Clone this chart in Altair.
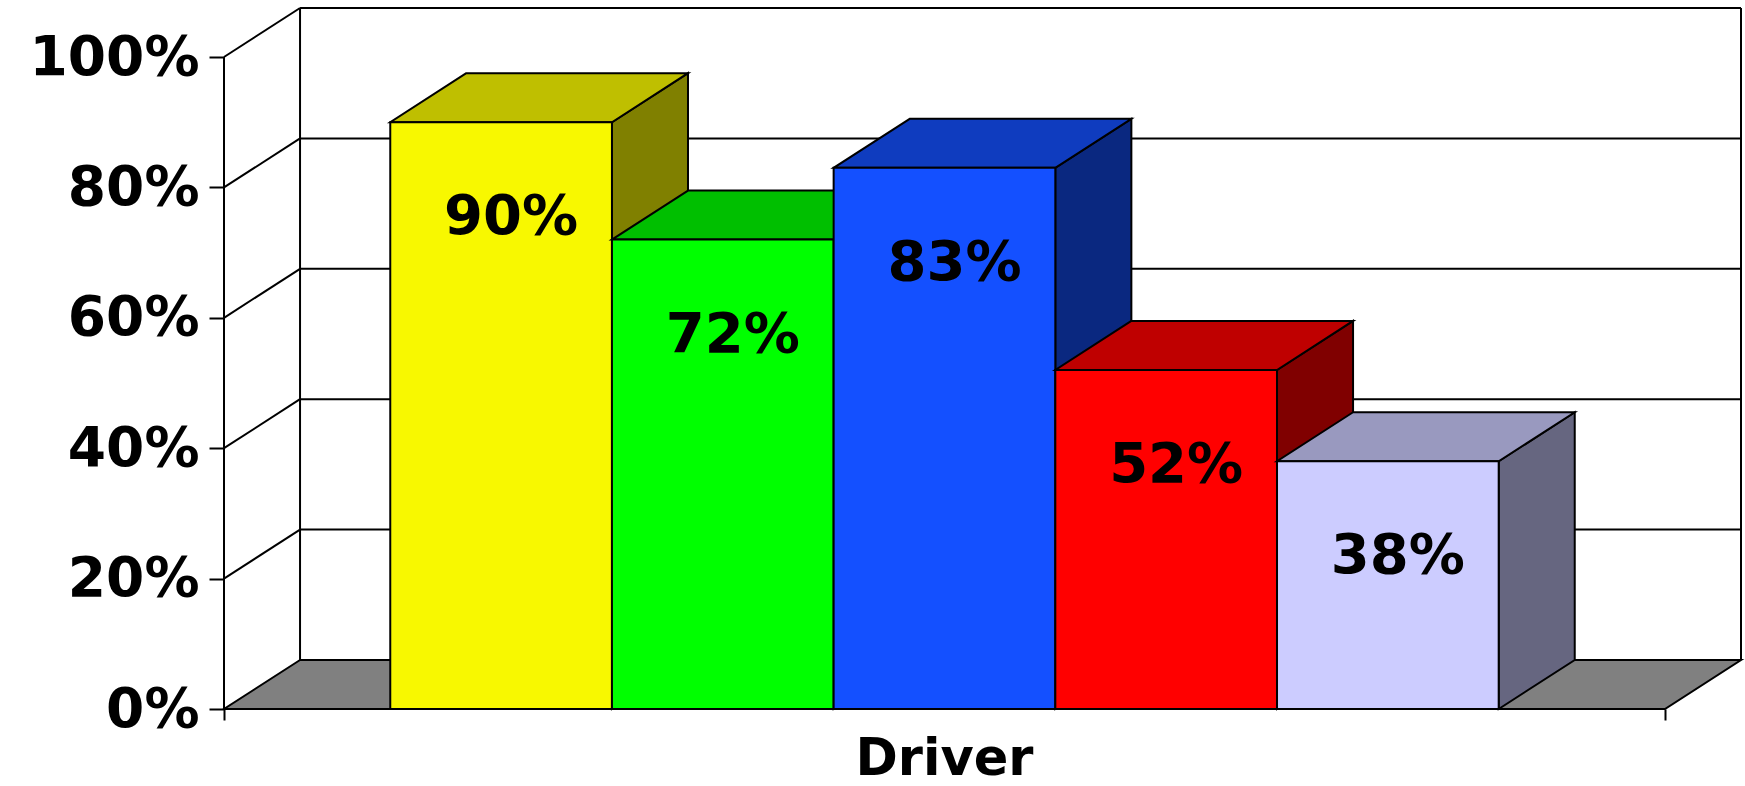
import altair as alt
import pandas as pd

# Share of each driver (percent), drawn left to right
values = [90, 72, 83, 52, 38]
front_colors = ["#F8F800", "#00FF00", "#1450FF", "#FF0000", "#CCCCFF"]
top_colors = ["#BFBF00", "#00BF00", "#0F3CBF", "#BF0000", "#9999BF"]
side_colors = ["#808000", "#008000", "#0A2880", "#800000", "#666680"]
y_ticks = [0, 20, 40, 60, 80, 100]

# Pseudo-3D depth: horizontal offset in bar widths, vertical offset in percent
DX = 0.343
DY = 7.52
X_LO, X_HI = -0.75, 5.75  # front edge of the floor, in bar units

FONT = "DejaVu Sans"
LINE = 2

x_scale = alt.Scale(domain=[X_LO, X_HI + DX], nice=False, zero=False)
y_scale = alt.Scale(domain=[0, 100 + DY], nice=False, zero=False)

x_axis = alt.Axis(
    values=[X_LO, X_HI], labels=False, grid=False, domain=False,
    tickSize=11, tickWidth=LINE, tickColor="black",
    title="Driver", titleFont=FONT, titleFontSize=51, titleFontWeight="bold",
    titleColor="black", titleX=720, titleY=65, titleAlign="center",
    titleBaseline="alphabetic",
)
y_axis = alt.Axis(
    values=y_ticks, labelExpr="datum.value + '%'", grid=False, domain=False,
    tickSize=15, tickWidth=LINE, tickColor="black",
    labelFont=FONT, labelFontSize=55, labelFontWeight="bold",
    labelColor="black", labelPadding=10, title=None,
)


def X(field="x"):
    return alt.X(f"{field}:Q", scale=x_scale, axis=x_axis)


def Y(field="y"):
    return alt.Y(f"{field}:Q", scale=y_scale, axis=y_axis)


layers = []

# Back wall gridlines, top edge and the diagonals joining them to the front axis
grid_y = [v + DY for v in y_ticks[1:]]
back_lines = pd.DataFrame({"x": [X_LO + DX] * len(grid_y),
                           "x2": [X_HI + DX] * len(grid_y),
                           "y": grid_y})
layers.append(alt.Chart(back_lines).mark_rule(color="black", strokeWidth=LINE).encode(
    x=X(), x2="x2:Q", y=Y()))

diag = pd.DataFrame({"x": [X_LO] * 5, "x2": [X_LO + DX] * 5,
                     "y": y_ticks[1:], "y2": grid_y})
layers.append(alt.Chart(diag).mark_rule(color="black", strokeWidth=LINE).encode(
    x=X(), x2="x2:Q", y=Y(), y2="y2:Q"))

# Vertical edges: back-left, back-right and the front value axis
verticals = pd.DataFrame({"x": [X_LO + DX, X_HI + DX, X_LO],
                          "y": [DY, DY, 0],
                          "y2": [100 + DY, 100 + DY, 100]})
layers.append(alt.Chart(verticals).mark_rule(color="black", strokeWidth=LINE).encode(
    x=X(), y=Y(), y2="y2:Q"))

# Grey floor
floor = pd.DataFrame({"y": [0, DY], "x": [X_LO, X_LO + DX], "x2": [X_HI, X_HI + DX]})
layers.append(alt.Chart(floor).mark_area(
    orient="horizontal", color="#808080", stroke="black", strokeWidth=LINE,
    opacity=1).encode(y=Y(), x=X(), x2="x2:Q"))

# Bars, painted left to right so each one covers the previous bar's side
for i, v in enumerate(values):
    side = pd.DataFrame({"x": [i + 1, i + 1 + DX], "y": [v, v + DY], "y2": [0, DY]})
    layers.append(alt.Chart(side).mark_area(
        orient="vertical", color=side_colors[i], stroke="black",
        strokeWidth=LINE, opacity=1).encode(x=X(), y=Y(), y2="y2:Q"))

    top = pd.DataFrame({"y": [v, v + DY], "x": [i, i + DX], "x2": [i + 1, i + 1 + DX]})
    layers.append(alt.Chart(top).mark_area(
        orient="horizontal", color=top_colors[i], stroke="black",
        strokeWidth=LINE, opacity=1).encode(y=Y(), x=X(), x2="x2:Q"))

    front = pd.DataFrame({"x": [i], "x2": [i + 1], "y": [0], "y2": [v]})
    layers.append(alt.Chart(front).mark_rect(
        color=front_colors[i], stroke="black", strokeWidth=LINE,
        opacity=1).encode(x=X(), x2="x2:Q", y=Y(), y2="y2:Q"))

# Value labels inside each bar
labels = pd.DataFrame({"x": [i + 0.5 for i in range(len(values))],
                       "y": values,
                       "text": [f"{v}%" for v in values]})
layers.append(alt.Chart(labels).mark_text(
    font=FONT, fontSize=56, fontWeight="bold", color="black",
    align="center", baseline="middle", dx=10, dy=95).encode(
    x=X(), y=Y(), text="text:N"))

chart = alt.layer(*layers).properties(
    width=1517,
    height=701,
    padding={"left": 224, "top": 8, "right": 4, "bottom": 77},
    autosize=alt.AutoSizeParams(type="none"),
    background="white",
).configure_view(stroke=None)

chart.save("out.html", embed_options={"renderer": "svg", "actions": False})
